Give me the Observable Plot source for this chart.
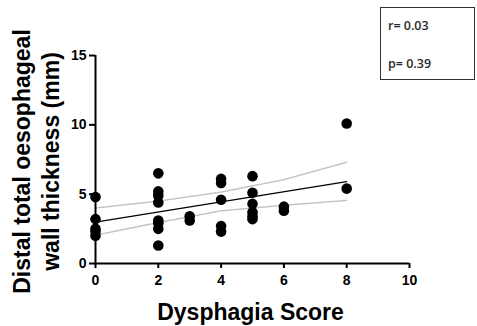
<!DOCTYPE html>
<html>
<head>
<meta charset="utf-8">
<script src="https://cdn.jsdelivr.net/npm/d3@7"></script>
<script src="https://cdn.jsdelivr.net/npm/@observablehq/plot@0.6"></script>
<style>
  body { margin: 0; background: #fff; }
  #wrap { position: relative; width: 477px; height: 326px; }
  #stats {
    position: absolute; left: 380px; top: 7px; width: 95px; height: 73px;
    border: 1.5px solid #333; box-sizing: border-box; background: #fff;
    font-family: "Open Sans", "Liberation Sans", sans-serif; font-size: 12.5px; color: #2a2a2a; font-weight: 600;
  }
  #stats div { position: absolute; left: 7px; line-height: 14px; }
</style>
</head>
<body>
<div id="wrap">
  <div id="chart"></div>
  <div id="stats"><div id="rtxt" style="top:11px"></div><div id="ptxt" style="top:49px"></div></div>
</div>
<script>
// Scatter data: Dysphagia score (x) vs distal total oesophageal wall thickness (y, mm)
const scoreX = [0,0,0,0,0, 2,2,2,2,2,2,2,2, 3,3, 4,4,4,4,4, 5,5,5,5,5,5, 6,6, 8,8];
const thickY = [4.8,3.2,2.5,2.3,2.0, 6.5,5.2,4.9,4.4,3.1,2.9,2.5,1.3, 3.4,3.1, 6.1,5.8,4.6,2.7,2.3, 6.3,5.1,4.3,3.7,3.4,3.2, 4.1,3.8, 10.1,5.4];

// Regression line and its confidence band
const fitX = [0, 8];
const fitY = [2.98, 5.9];
const bandX = [0, 2, 4, 6, 8];
const bandUpper = [4.0, 4.5, 5.15, 6.05, 7.3];
const bandLower = [2.05, 2.95, 3.8, 4.2, 4.55];

const xTicks = [0, 2, 4, 6, 8, 10];
const yTicks = [0, 5, 10, 15];
const xTitle = "Dysphagia Score";
const yTitle = "Distal total oesophageal\nwall thickness (mm)";
const statLabels = ["r= 0.03", "p= 0.39"];

const points = scoreX.map((x, i) => ({x, y: thickY[i]}));
const fit = fitX.map((x, i) => ({x, y: fitY[i]}));
const upper = bandX.map((x, i) => ({x, y: bandUpper[i]}));
const lower = bandX.map((x, i) => ({x, y: bandLower[i]}));

const chart = Plot.plot({
  width: 477,
  height: 326,
  marginLeft: 95,
  marginRight: 68,
  marginTop: 55,
  marginBottom: 63,
  x: {domain: [0, 10]},
  y: {domain: [0, 15]},
  style: {fontFamily: "'Liberation Sans', Arial, sans-serif", color: "#000", background: "transparent"},
  marks: [
    Plot.line(upper, {x: "x", y: "y", stroke: "#c0c0c0", strokeWidth: 1.5, strokeDasharray: "1.2 1.3"}),
    Plot.line(lower, {x: "x", y: "y", stroke: "#c0c0c0", strokeWidth: 1.5, strokeDasharray: "1.2 1.3"}),
    Plot.line(fit, {x: "x", y: "y", stroke: "#000", strokeWidth: 1.2}),
    Plot.dot(points, {x: "x", y: "y", r: 5.3, fill: "#000", stroke: null}),
    Plot.axisX({ticks: xTicks, tickSize: 5, tickPadding: 7, strokeWidth: 2, fontSize: 14, fontWeight: "bold", label: null}),
    Plot.axisY({ticks: yTicks, tickSize: 6, tickPadding: 3, strokeWidth: 2, fontSize: 14, fontWeight: "bold", label: null}),
    Plot.ruleX([0], {y1: 0, y2: 15, strokeWidth: 2, stroke: "#000"}),
    Plot.ruleY([0], {x1: 0, x2: 10, strokeWidth: 2, stroke: "#000"}),
    Plot.text([yTitle], {frameAnchor: "left", textAnchor: "middle", lineAnchor: "middle", rotate: -90, dx: -60, dy: 2, fontSize: 23, fontWeight: "bold", lineHeight: 1.22, fill: "#000"}),
    Plot.text([xTitle], {frameAnchor: "bottom", textAnchor: "middle", lineAnchor: "middle", dy: 49, dx: -2, fontSize: 23, fontWeight: "bold", fill: "#000"})
  ]
});
document.getElementById("chart").appendChild(chart);
document.getElementById("rtxt").textContent = statLabels[0];
document.getElementById("ptxt").textContent = statLabels[1];
</script>
</body>
</html>
